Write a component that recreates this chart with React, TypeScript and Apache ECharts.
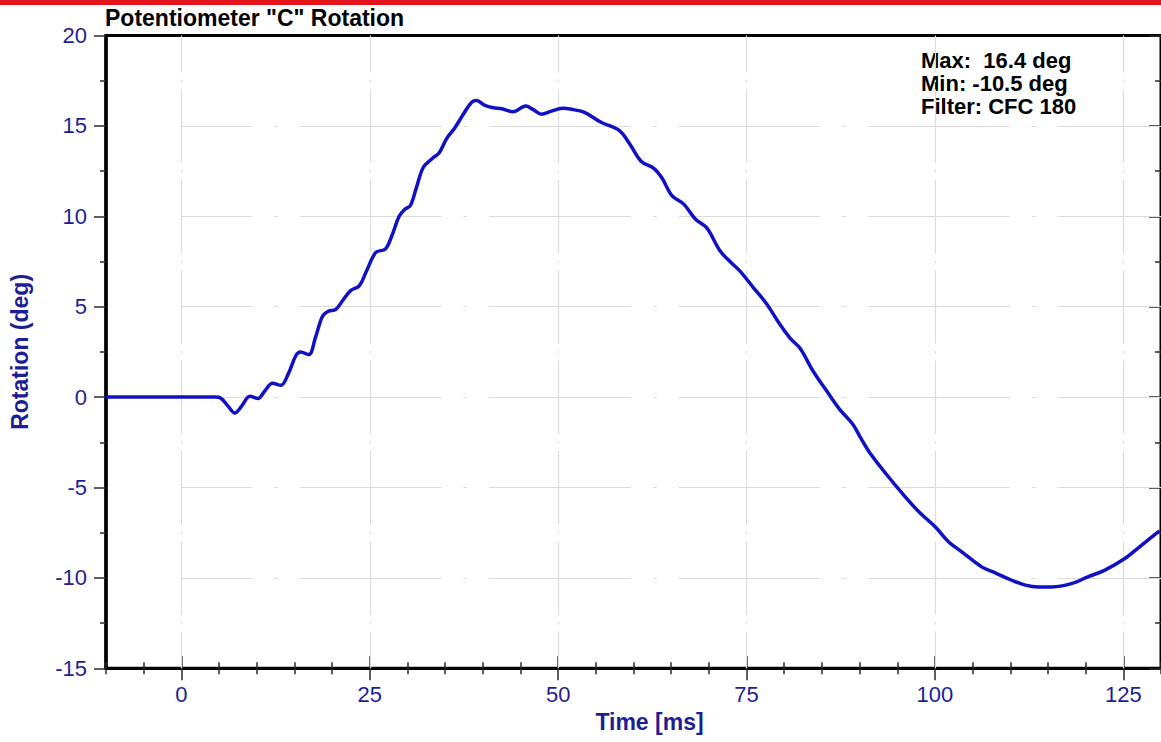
import React, { useEffect, useRef } from "react";
import * as echarts from "echarts";

// Potentiometer "C" rotation trace (time in ms, rotation in degrees)
const TIME_MS = [
  -10, 4.5, 5.2, 6.2, 7.1, 8.0, 9.1, 10.2, 11.0, 12.1, 13.2, 14.2, 15.2, 15.8,
  16.9, 17.8, 18.7, 19.5, 20.5, 21.5, 22.5, 23.6, 24.6, 25.8, 27.1, 28.0, 28.9,
  29.7, 30.4, 31.2, 32.1, 33.3, 34.2, 35.2, 36.3, 37.5, 38.5, 39.2, 40.2, 41.4,
  42.5, 44.0, 45.7, 46.7, 47.8, 49.0, 50.6, 52.0, 53.5, 55.7, 58.1, 59.5, 61.0,
  62.7, 63.8, 65.1, 66.7, 68.2, 69.7, 71.5, 72.8, 74.1, 75.9, 77.7, 79.4, 80.8,
  82.1, 83.8, 85.6, 87.3, 89.1, 90.2, 91.3, 93.5, 95.7, 97.9, 99.2, 100.1,
  101.8, 103.6, 106.2, 108.0, 110.2, 112.0, 113.7, 115.5, 118.1, 120.3, 122.5,
  125.2, 127.4, 129.8,
];
const ROTATION_DEG = [
  0, 0, -0.05, -0.5, -0.88, -0.5, 0.05, -0.08, 0.3, 0.76, 0.65, 1.3, 2.3, 2.5,
  2.35, 3.3, 4.45, 4.75, 4.85, 5.4, 5.9, 6.15, 7.0, 8.0, 8.2, 9.0, 10.0,
  10.4, 10.6, 11.6, 12.7, 13.2, 13.5, 14.3, 14.9, 15.7, 16.3, 16.4, 16.15, 16.0,
  15.95, 15.78, 16.1, 15.9, 15.65, 15.8, 15.98, 15.9, 15.75, 15.2, 14.75, 14.0, 13.05,
  12.65, 12.1, 11.15, 10.66, 9.85, 9.37, 8.08, 7.5, 6.98, 6.06, 5.14, 4.04, 3.25,
  2.7, 1.46, 0.36, -0.65, -1.5, -2.3, -3.05, -4.24, -5.34, -6.36, -6.85, -7.2,
  -8.0, -8.57, -9.39, -9.72, -10.13, -10.4, -10.5, -10.5, -10.32, -9.94, -9.58,
  -8.93, -8.2, -7.4,
];

const X_RANGE = [-10, 130];
const Y_RANGE = [-15, 20];
const Y_INTERVAL = 5;
const X_MAJOR_TICKS = [0, 25, 50, 75, 100, 125];
const X_MINOR_TICKS = [
  -10, -5, 5, 10, 15, 20, 30, 35, 40, 45, 55, 60, 65, 70, 80, 85, 90, 95, 105,
  110, 115, 120, 130,
];
const Y_GRID_VALUES = [-10, -5, 0, 5, 10, 15];
const FILTER_LABEL = "CFC 180";

const NAVY = "#1e1e94";
const CURVE = "#1010c4";
const GRID_GRAY = "#dcdcdc";
const TICK = "#2a2a2a";
const FONT = "'Liberation Sans', Arial, Helvetica, sans-serif";

function xAxisCopy(ticks: number[], length: number, inside: boolean) {
  return {
    type: "value",
    min: X_RANGE[0],
    max: X_RANGE[1],
    position: "bottom",
    axisLine: { show: false, onZero: false },
    axisTick: {
      show: true,
      customValues: ticks,
      length,
      inside,
      lineStyle: { color: TICK, width: 1.5 },
    },
    axisLabel: { show: false },
    splitLine: { show: false },
  };
}

export default function App() {
  const ref = useRef<HTMLDivElement>(null);

  useEffect(() => {
    if (!ref.current) return;
    const chart = echarts.init(ref.current, null, { renderer: "svg" });

    const maxVal = Math.max(...ROTATION_DEG);
    const minVal = Math.min(...ROTATION_DEG);
    const boldText = { fontFamily: FONT, fontWeight: "bold", fontSize: 23 };
    const noteText = { fontFamily: FONT, fontWeight: "bold", fontSize: 22 };

    const option = {
      animation: false,
      textStyle: { fontFamily: FONT },
      grid: {
        left: 102.5,
        right: -2.6,
        top: 35.5,
        bottom: 73.7,
        show: true,
        borderColor: "#000",
        borderWidth: 3,
        backgroundColor: "transparent",
      },
      xAxis: [
        {
          type: "value",
          min: X_RANGE[0],
          max: X_RANGE[1],
          position: "bottom",
          axisLine: { show: true, onZero: false, lineStyle: { color: "#000", width: 3 } },
          axisTick: {
            show: true,
            customValues: X_MAJOR_TICKS,
            length: 12,
            inside: false,
            lineStyle: { color: TICK, width: 1.5 },
          },
          axisLabel: {
            show: true,
            customValues: X_MAJOR_TICKS,
            fontSize: 22,
            color: NAVY,
            margin: 15,
            fontFamily: FONT,
          },
          splitLine: { show: false },
          name: "Time [ms]",
          nameLocation: "middle",
          nameGap: 42,
          nameTextStyle: { ...boldText, color: NAVY, padding: [0, 0, 0, 32] },
        },
        xAxisCopy(X_MAJOR_TICKS, 12, true),
        xAxisCopy(X_MINOR_TICKS, 6, false),
        xAxisCopy(X_MINOR_TICKS, 6, true),
      ],
      yAxis: [
        {
          type: "value",
          min: Y_RANGE[0],
          max: Y_RANGE[1],
          interval: Y_INTERVAL,
          axisLine: { show: true, onZero: false, lineStyle: { color: "#000", width: 3.5 } },
          axisTick: { show: true, length: 12, lineStyle: { color: TICK, width: 1.5 } },
          minorTick: { show: true, splitNumber: 2, length: 6, lineStyle: { color: TICK, width: 1.5 } },
          axisLabel: { fontSize: 22, color: NAVY, margin: 19, fontFamily: FONT },
          splitLine: { show: false },
          name: "Rotation (deg)",
          nameLocation: "middle",
          nameGap: 75,
          nameTextStyle: { ...boldText, color: NAVY },
        },
        {
          type: "value",
          min: Y_RANGE[0],
          max: Y_RANGE[1],
          interval: Y_INTERVAL,
          axisLine: { show: false, onZero: false },
          axisTick: { show: true, inside: true, length: 12, lineStyle: { color: TICK, width: 1.5 } },
          minorTick: { show: true, splitNumber: 2, length: 6, lineStyle: { color: TICK, width: 1.5 } },
          axisLabel: { show: false },
          splitLine: { show: false },
        },
      ],
      series: [
        {
          // horizontal grid lines (long dash, dot), starting at t = 0
          type: "line",
          data: [],
          silent: true,
          z: 1,
          markLine: {
            silent: true,
            symbol: ["none", "none"],
            label: { show: false },
            emphasis: { disabled: true },
            lineStyle: {
              color: GRID_GRAY,
              width: 1.2,
              type: [141.5, 22, 4, 22],
              dashOffset: 70.75,
            },
            data: Y_GRID_VALUES.map((y) => [
              { coord: [X_MAJOR_TICKS[0], y] },
              { coord: [X_RANGE[1], y] },
            ]),
          },
        },
        {
          // vertical grid lines
          type: "line",
          data: [],
          silent: true,
          z: 1,
          markLine: {
            silent: true,
            symbol: ["none", "none"],
            label: { show: false },
            emphasis: { disabled: true },
            lineStyle: {
              color: GRID_GRAY,
              width: 1.2,
              type: [73.5, 7.2, 2.5, 7.2],
              dashOffset: 36.75,
            },
            data: X_MAJOR_TICKS.map((x) => [
              { coord: [x, Y_RANGE[0]] },
              { coord: [x, Y_RANGE[1]] },
            ]),
          },
        },
        {
          type: "line",
          data: TIME_MS.map((t, i) => [t, ROTATION_DEG[i]]),
          smooth: 0.35,
          symbol: "none",
          showSymbol: false,
          lineStyle: { color: CURVE, width: 3.5 },
          z: 5,
        },
      ],
      graphic: [
        {
          type: "rect",
          left: 0,
          top: 0,
          shape: { width: 1161, height: 5 },
          style: { fill: "#e2141c" },
          silent: true,
        },
        {
          type: "text",
          x: 105,
          y: 18,
          style: {
            text: 'Potentiometer "C" Rotation',
            fill: "#000",
            ...boldText,
            align: "left",
            verticalAlign: "middle",
          },
        },
        {
          type: "text",
          x: 921,
          y: 60.5,
          style: {
            text: `Max:\u00A0 ${maxVal.toFixed(1)} deg`,
            fill: "#000",
            ...noteText,
            align: "left",
            verticalAlign: "middle",
          },
        },
        {
          type: "text",
          x: 921,
          y: 83.5,
          style: {
            text: `Min: ${minVal.toFixed(1)} deg`,
            fill: "#000",
            ...noteText,
            align: "left",
            verticalAlign: "middle",
          },
        },
        {
          type: "text",
          x: 921,
          y: 106.5,
          style: {
            text: `Filter: ${FILTER_LABEL}`,
            fill: "#000",
            ...noteText,
            align: "left",
            verticalAlign: "middle",
          },
        },
      ],
    };

    chart.setOption(option as any);
    return () => chart.dispose();
  }, []);

  return (
    <div
      ref={ref}
      style={{ position: "absolute", left: 0, top: 0, width: 1161, height: 742, background: "#fff" }}
    />
  );
}
